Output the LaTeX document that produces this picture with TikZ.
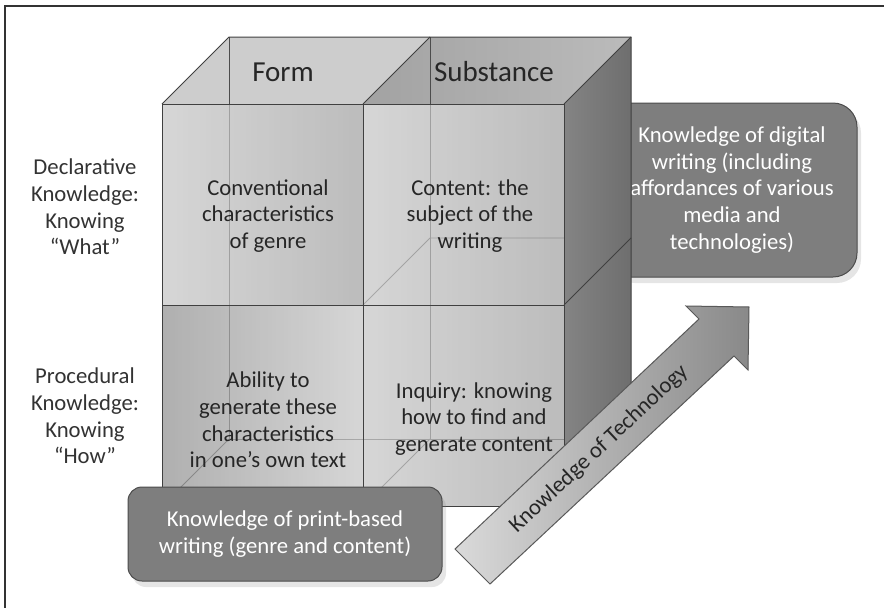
\documentclass[tikz,border=0pt]{standalone}
\usepackage{fontspec}
\setmainfont{Carlito}
\usetikzlibrary{positioning,shadows}

\definecolor{boxgray}{HTML}{7E7E7E}
\definecolor{topA}{HTML}{CDCDCD}
\definecolor{topB}{HTML}{A2A2A2}
\definecolor{topC}{HTML}{BBBBBB}
\definecolor{sideA}{HTML}{848484}
\definecolor{sideB}{HTML}{6E6E6E}
\definecolor{lightcell}{HTML}{C9C9C9}
\definecolor{darkcell}{HTML}{A6A6A6}
\definecolor{arrowA}{HTML}{DADADA}
\definecolor{arrowB}{HTML}{898989}

\begin{document}
\begin{tikzpicture}[x=1pt,y=-1pt,node distance=0pt,
      cell/.style={rectangle, draw=black!75, line width=1pt, minimum width=201pt,
        minimum height=201pt, inner sep=0pt, outer sep=0pt, fill opacity=0.75},
      celltext/.style={align=center, text=black!85, font=\fontsize{22.7}{26.6}\selectfont},
      head/.style={text=black!85, font=\fontsize{29}{32}\selectfont},
      rowlab/.style={align=center, text=black!80, font=\fontsize{22.7}{26.6}\selectfont},
      darkbox/.style={rectangle, rounded corners=14pt, draw=black!70, line width=1pt,
        fill=boxgray, text=white, align=center, font=\fontsize{22.7}{26.8}\selectfont,
        drop shadow={shadow xshift=4pt, shadow yshift=-6pt, opacity=0.2}},
      backedge/.style={draw=black!70, line width=0.8pt},
      edge/.style={draw=black!75, line width=1pt, line join=round},
      arr/.style={draw=black!65, line width=1pt, line join=miter, left color=arrowA, right color=arrowB}
      ]
      \useasboundingbox (0,0) rectangle (884,608);
      \fill[white] (0,0) rectangle (884,608);
      \draw[black!80, line width=1.5pt] (5,608) -- (5,6) -- (884,6);

      % box behind the cube
      \node (digital) [darkbox, rounded corners=24pt, minimum width=250pt, minimum height=174pt]
        at (732,190) {Knowledge of digital\\writing (including\\affordances of various\\media and\\technologies)};

      % top faces
      \fill[topA] (162,104) -- (229,37) -- (430,37) -- (363,104) -- cycle;
      \shade[left color=topB, right color=topC] (363,104) -- (430,37) -- (631,37) -- (564,104) -- cycle;

      % hidden edges
      \draw[backedge] (229,37) -- (229,439) -- (631,439);
      \draw[backedge] (430,37) -- (430,439);
      \draw[backedge] (363,305) -- (430,238) -- (631,238);
      \draw[backedge] (162,506) -- (229,439);
      \draw[backedge] (363,506) -- (430,439);

      % side face
      \shade[left color=sideA, right color=sideB] (564,104) -- (631,37) -- (631,439) -- (564,506) -- cycle;

      % front cells
      \node (c11) [cell, left color=lightcell, right color=darkcell] at (262.5,204.5) {};
      \node (c12) [cell, left color=lightcell, right color=darkcell, right=of c11] {};
      \node (c21) [cell, left color=darkcell!90!black, right color=lightcell, below=of c11] {};
      \node (c22) [cell, left color=lightcell, right color=darkcell, right=of c21] {};

      \draw[edge] (162,104) -- (229,37) -- (631,37) -- (631,439) -- (564,506);
      \draw[edge] (363,104) -- (430,37);
      \draw[edge] (564,104) -- (631,37);
      \draw[edge] (564,305) -- (631,238);

      \node (form)  [head] at (283,72) {Form};
      \node (subst) [head] at (494,72) {Substance};

      \node (t11) [celltext] at (268,216) {Conventional\\characteristics\\of genre};
      \node (t12) [celltext] at (470,216) {Content: the\\subject of the\\writing};
      \node (t21) [celltext] at (268,420) {Ability to\\generate these\\characteristics\\in one’s own text};
      \node (t22) [celltext] at (474,419) {Inquiry: knowing\\how to find and\\generate content};

      \node (decl) [rowlab] at (85,207) {Declarative\\Knowledge:\\Knowing\\“What”};
      \node (proc) [rowlab] at (85,416) {Procedural\\Knowledge:\\Knowing\\“How”};

      % technology arrow
      \draw[arr] (455,549) -- (699,319) -- (686,306) -- (749,307) -- (748,370)
        -- (734,356) -- (490,584) -- cycle;
      \node (tech) [rotate=43, text=black!85, font=\fontsize{22.7}{26}\selectfont]
        at (599,449) {Knowledge of Technology};

      \node (print) [darkbox, minimum width=314pt, minimum height=94pt]
        at (285,534) {Knowledge of print-based\\writing (genre and content)};
\end{tikzpicture}
\end{document}
